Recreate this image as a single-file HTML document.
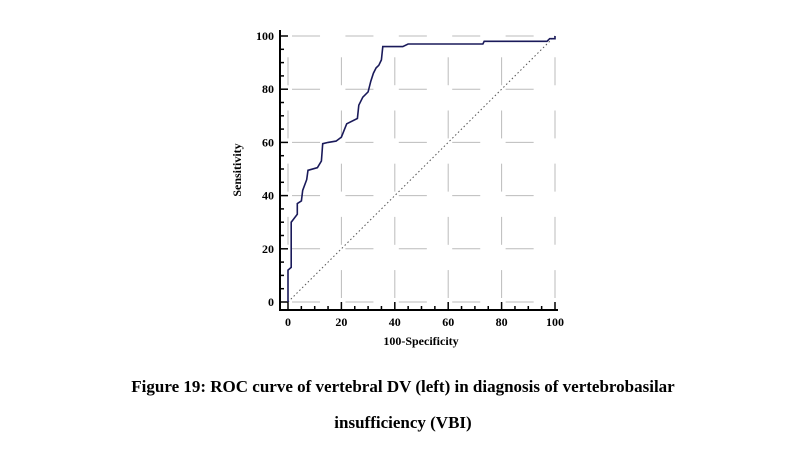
<!DOCTYPE html>
<html><head><meta charset="utf-8"><style>
body{margin:0;background:#fff;width:800px;height:460px;overflow:hidden}
svg{display:block}
text{font-family:"Liberation Serif",serif;font-weight:bold;fill:#000}
</style></head><body>
<svg width="800" height="460">
<g id="grid"></g>
<g id="axes"></g>
<line x1="288" y1="302" x2="555" y2="36" stroke="#555" stroke-width="1" stroke-dasharray="1.5,2.5"/>
<path id="roc" fill="none" stroke="#1a1a5a" stroke-width="1.6"/>
<text x="241" y="170" font-size="12" text-anchor="middle" transform="rotate(-90 241 170)">Sensitivity</text>
<text x="421" y="345" font-size="12" text-anchor="middle">100-Specificity</text>
<text x="403" y="392" font-size="17" text-anchor="middle">Figure 19: ROC curve of vertebral DV (left) in diagnosis of vertebrobasilar</text>
<text x="403" y="428" font-size="17" text-anchor="middle">insufficiency (VBI)</text>
</svg>
<script>
const fpr=[0,0,1.2,1.2,2,3.5,3.5,5,5.5,7,7.5,11,12.5,13,15,18,20,22,26,26.5,28,30,31,32,33,34,35,35.5,43,45,73,73.5,97,98,100,100];
const tpr=[0,12,13,30,31,33,37,38,42,46,49.5,50.5,53,59.5,60,60.5,62,67,69,74,77,79,83,86,88,89,91,96,96,97,97,98,98,99,99,100];
const ticks=[0,20,40,60,80,100];
const X0=288,X1=555,Y0=302,Y1=36;
const sx=v=>X0+(X1-X0)*v/100, sy=v=>Y0+(Y1-Y0)*v/100;
const NS="http://www.w3.org/2000/svg";
function mk(t,a,p){const e=document.createElementNS(NS,t);for(const k in a)e.setAttribute(k,a[k]);p.appendChild(e);return e;}
const grid=document.getElementById('grid'),axes=document.getElementById('axes');
ticks.forEach(t=>{
 for(let k=0;k<100;k+=20){
  const h=mk('line',{x1:sx(k+1.5),x2:sx(k+12),y1:sy(t),y2:sy(t),stroke:'#bbb','stroke-width':1},grid);
  
  
  const v=mk('line',{y1:sy(k+1.5),y2:sy(k+12),x1:sx(t),x2:sx(t),stroke:'#bbb','stroke-width':1},grid);
  
  
 }
 const xl=mk('text',{x:sx(t),y:326,'font-size':12,'text-anchor':'middle'},axes);xl.textContent=t;
 
 
 const yl=mk('text',{x:274,y:sy(t)+4,'font-size':12,'text-anchor':'end'},axes);yl.textContent=t;
 
 
});
for(let v=0;v<=100;v+=5){
 const big=v%20===0;
 const a=mk('line',{x1:sx(v),x2:sx(v),y1:310,y2:big?302:306,stroke:'#000','stroke-width':1.5},axes);
 
 
 const b=mk('line',{x1:280,x2:big?288:284,y1:sy(v),y2:sy(v),stroke:'#000','stroke-width':1.5},axes);
 
 
}
const ax=mk('path',{d:`M280,${sy(100)-6} V310 H${sx(100)+3}`,fill:'none',stroke:'#000','stroke-width':2},axes);


let d='';fpr.forEach((f,i)=>{d+=(i?'L':'M')+sx(f).toFixed(1)+','+sy(tpr[i]).toFixed(1);});
document.getElementById('roc').setAttribute('d',d);
</script>
</body></html>
